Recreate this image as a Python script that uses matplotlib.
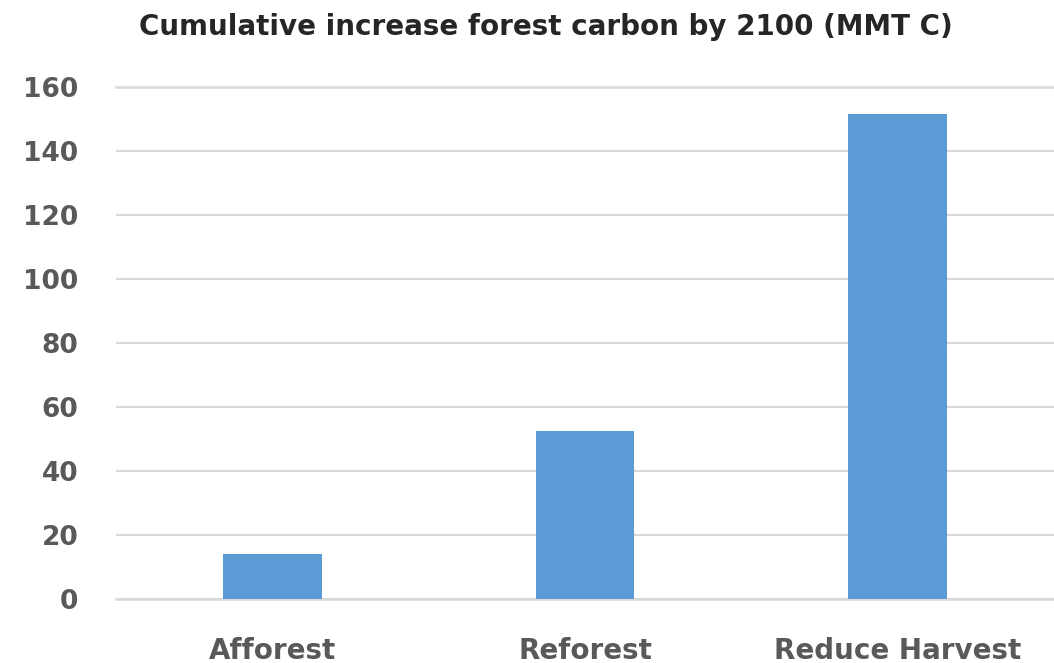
import matplotlib
matplotlib.use("Agg")
import matplotlib.pyplot as plt

# Cumulative forest carbon gain by 2100, MMT C
categories = ["Afforest", "Reforest", "Reduce Harvest"]
values = [14, 52.5, 151.5]
yticks = [0, 20, 40, 60, 80, 100, 120, 140, 160]

BAR_COLOR = "#5B9BD5"
GRID_COLOR = "#D9D9D9"
TEXT_GREY = "#595959"

plt.rcParams["font.family"] = ["DejaVu Sans"]

fig = plt.figure(figsize=(10.54, 6.63), dpi=100)
ax = fig.add_axes([0.110, 0.0965, 0.890, 0.7725])

x = range(len(categories))
ax.bar(x, values, width=0.316, color=BAR_COLOR, zorder=3)

ax.set_xlim(-0.5, len(categories) - 0.5)
ax.set_ylim(0, 160)
ax.set_yticks(yticks)
ax.set_xticks(list(x))
ax.set_xticklabels(categories)

# light horizontal gridlines, no frame
ax.yaxis.grid(True, color=GRID_COLOR, linewidth=1.5, zorder=0)
ax.set_axisbelow(True)
for side in ("top", "right", "left", "bottom"):
    ax.spines[side].set_visible(False)
ax.axhline(0, color=GRID_COLOR, linewidth=1.8, zorder=1, clip_on=False)
ax.axhline(160, color=GRID_COLOR, linewidth=1.8, zorder=1, clip_on=False)

ax.tick_params(axis="both", length=0, colors=TEXT_GREY)
ax.tick_params(axis="y", pad=27, labelsize=19)
ax.tick_params(axis="x", pad=27, labelsize=20)
for lbl in ax.get_xticklabels() + ax.get_yticklabels():
    lbl.set_fontweight("bold")

fig.text(0.518, 1 - 35 / 663, "Cumulative increase forest carbon by 2100 (MMT C)",
         ha="center", va="baseline", fontsize=20, fontweight="bold",
         color="#262626")

fig.savefig("out.png", dpi=100)
